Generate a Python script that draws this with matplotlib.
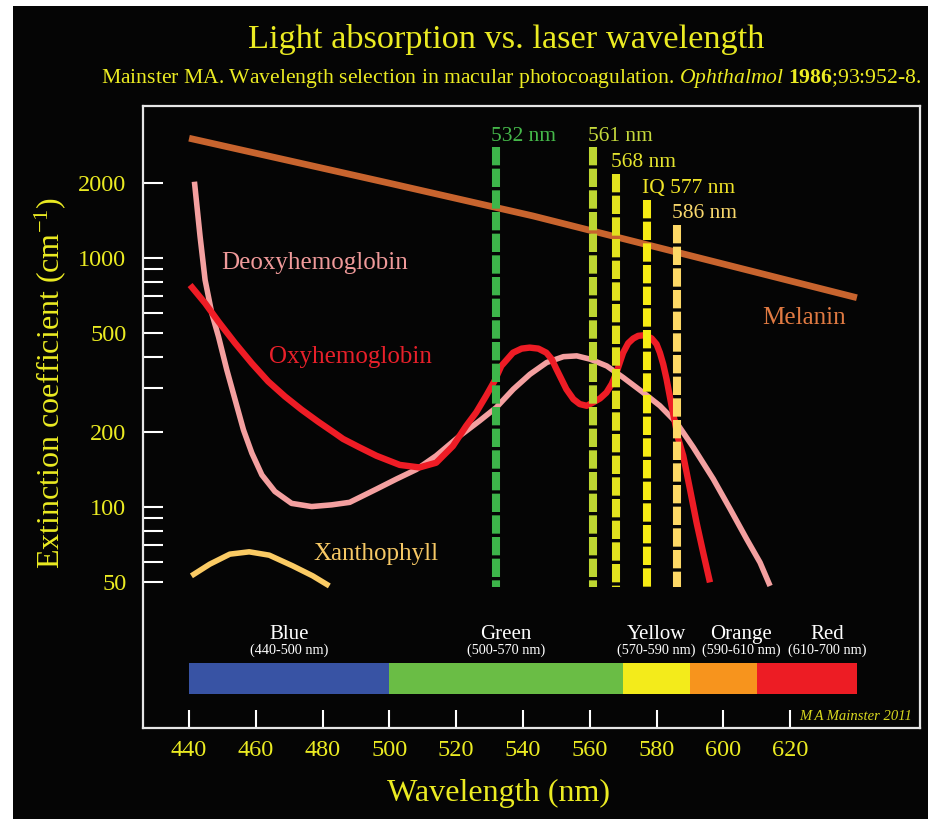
import matplotlib
matplotlib.use('Agg')
import matplotlib.pyplot as plt
import matplotlib.transforms as mtransforms
from matplotlib.patches import Rectangle

plt.rcParams['font.family'] = ['Liberation Serif', 'DejaVu Serif']
plt.rcParams['mathtext.fontset'] = 'custom'
plt.rcParams['mathtext.rm'] = 'Liberation Serif'
plt.rcParams['mathtext.it'] = 'Liberation Serif:italic'
plt.rcParams['mathtext.bf'] = 'Liberation Serif:bold'
plt.rcParams['lines.scale_dashes'] = False

# ---------------- data ----------------
melanin_nm = [440, 500, 543, 580, 640]
melanin_val = [3017, 1990, 1470, 1102, 690]

deoxy_nm = [441.6, 443.3, 444.8, 446.8, 448.8, 451.3, 453.8, 456.3, 458.8, 461.8,
            465.7, 470.7, 476.7, 482.7, 488.1, 496.1, 502.1, 508.1, 514, 521,
            527, 532, 537.1, 542.1, 547.1, 552.1, 556.1, 560.1, 565.1, 570,
            576, 581, 586, 591, 597, 602, 607, 611, 614]
deoxy_val = [2018, 1214, 813, 598, 482, 354, 268, 203, 164, 134,
             115, 103, 100, 101.6, 104, 117.5, 129, 141, 160, 192,
             221, 250, 296, 340, 379, 400, 403, 391, 367, 330,
             287, 254, 217, 173, 129, 98, 74, 59.6, 48]

oxy_nm = [440.3, 444.8, 448.8, 453.8, 458.8, 463.7, 468.7, 473.7, 478.7, 483.7,
          486.1, 491, 496.1, 503.1, 509, 514, 519, 523, 526, 529, 531.5, 533.5,
          537, 539.6, 542, 544.6, 547, 548.6, 550, 553, 555.1, 557, 559.1, 561,
          563.1, 565, 566.6, 568, 569, 570, 571.5, 573, 574.5, 576.5, 578.5, 580,
          581, 582, 583, 584.5, 586.5, 588, 590, 592, 594, 596]
oxy_val = [776, 656, 553, 453, 376, 318, 277, 245, 219, 197,
           187, 173, 160, 147, 143.6, 150, 175, 211, 239, 279, 320, 367,
           415, 431, 435, 431, 415, 391, 357, 296, 270, 258, 254, 262,
           272, 287, 311, 345, 379, 415, 453, 473, 485, 488, 474, 449,
           415, 373, 325, 254, 187, 160, 117.6, 86, 65, 49.6]

xan_nm = [440.7, 446.2, 452.2, 458, 464, 471, 477, 482]
xan_val = [52.7, 58.7, 64.4, 65.8, 63.8, 57.8, 52.7, 48]

laser_nm = [532, 561, 568, 577, 586]
laser_labels = ['532 nm', '561 nm', '568 nm', 'IQ 577 nm', '586 nm']
laser_top = [2770, 2770, 2160, 1700, 1350]
laser_bottom = [47.5, 47.5, 47.5, 47.5, 47.5]

band_names = ['Blue', 'Green', 'Yellow', 'Orange', 'Red']
band_ranges = ['(440-500 nm)', '(500-570 nm)', '(570-590 nm)', '(590-610 nm)', '(610-700 nm)']
band_start = [440, 500, 570, 590, 610]
band_end = [500, 570, 590, 610, 640]

x_ticks = [440, 460, 480, 500, 520, 540, 560, 580, 600, 620]
y_ticks = [50, 60, 70, 80, 90, 100, 200, 300, 400, 500, 600, 700, 800, 900, 1000, 2000]
y_tick_labels = ['50', '', '', '', '', '100', '200', '', '', '500', '', '', '', '', '1000', '2000']

# ---------------- styles ----------------
W, H = 929, 819
BG = '#050505'
YEL = '#EBEB22'
band_colors = ['#3853A4', '#6ABD45', '#F3EB1B', '#F7941D', '#ED1C24']
band_label_x = [470, 535, 580, 605.4, 631.2]
laser_colors = ['#3DB54A', '#BDD631', '#E2E21E', '#F6EB14', '#FDD866']
laser_text_colors = ['#45B84A', '#C5D93C', '#E3E32E', '#F0E428', '#F9D86C']


def fx(px):
    return px / W


def fy(py):
    return 1 - py / H


fig = plt.figure(figsize=(W / 100, H / 100), dpi=100, facecolor='white')
fig.patches.append(Rectangle((fx(13), 0), fx(W - 13), (H - 6) / H,
                             transform=fig.transFigure, facecolor=BG,
                             edgecolor='none', zorder=-10))

ax = fig.add_axes([fx(143), fy(728), fx(777), 622 / H])
ax.set_facecolor(BG)
ax.set_yscale('log')
ax.set_xlim(426.2, 658.9)
ax.set_ylim(12.9, 4064)

for s in ax.spines.values():
    s.set_color('#E6E6E6')
    s.set_linewidth(1.6)

ax.set_xticks(x_ticks)
ax.set_xticklabels([str(v) for v in x_ticks])
ax.set_yticks(y_ticks)
ax.set_yticklabels(y_tick_labels)
ax.minorticks_off()
ax.tick_params(axis='x', direction='in', length=13, width=1.5, color='white',
               labelcolor=YEL, labelsize=17.5, pad=9)
ax.tick_params(axis='y', direction='in', length=14.5, width=1.5, color='white',
               labelcolor=YEL, labelsize=17.5, pad=12)

# curves
common = dict(solid_capstyle='butt', solid_joinstyle='round')
ax.plot(melanin_nm, melanin_val, color='#C8642E', lw=4.8, zorder=3, **common)
ax.plot(deoxy_nm, deoxy_val, color='#F4A0A0', lw=4.0, zorder=3, **common)
ax.plot(oxy_nm, oxy_val, color='#EE1C25', lw=4.6, zorder=4, **common)
ax.plot(xan_nm, xan_val, color='#FBCB64', lw=4.0, zorder=3, **common)

# laser lines
for nm, top, bot, lab, c, tc in zip(laser_nm, laser_top, laser_bottom, laser_labels,
                                     laser_colors, laser_text_colors):
    ax.plot([nm, nm], [top, bot], color=c, lw=5.8, dashes=(13.2, 2.4),
            dash_capstyle='butt', zorder=5)
    ax.annotate(lab, xy=(nm, top), xytext=(-3.6, 5), textcoords='offset points',
                ha='left', va='baseline', color=tc, fontsize=15.5, zorder=6)

# spectrum bar
trans = mtransforms.blended_transform_factory(ax.transData, ax.transAxes)
for s0, s1, c, name, rng, lx in zip(band_start, band_end, band_colors, band_names,
                                    band_ranges, band_label_x):
    ax.axvspan(s0, s1, ymin=0.054, ymax=0.104, facecolor=c, edgecolor='none', zorder=2)
    ax.text(lx, 0.143, name, transform=trans, ha='center', va='baseline',
            color='white', fontsize=15)
    ax.text(lx, 0.119, rng, transform=trans, ha='center', va='baseline',
            color='white', fontsize=10.3)

# curve labels
ax.text(449.7, 903, 'Deoxyhemoglobin', color='#F09A9A', fontsize=18, ha='left', va='baseline')
ax.text(464, 377, 'Oxyhemoglobin', color='#E8202A', fontsize=18, ha='left', va='baseline')
ax.text(477.3, 61.1, 'Xanthophyll', color='#F6C865', fontsize=18, ha='left', va='baseline')
ax.text(611.5, 540, 'Melanin', color='#E07A42', fontsize=18, ha='left', va='baseline')

r = fig.canvas.get_renderer()


def fit(t, target, use_height=False):
    bb = t.get_window_extent(r)
    cur = bb.height if use_height else bb.width
    t.set_fontsize(t.get_fontsize() * target / cur)


# credit
tc = ax.text(fx(912), fy(720), 'M A Mainster 2011', transform=fig.transFigure,
             ha='right', va='baseline', color='#D9D91E', fontsize=10.5, style='italic')
fit(tc, 113)

# titles
t1 = fig.text(fx(506), fy(48), 'Light absorption vs. laser wavelength',
              ha='center', va='baseline', color=YEL, fontsize=24.5)
fit(t1, 516)
t2 = fig.text(fx(511), fy(83.3),
              r'Mainster MA. Wavelength selection in macular photocoagulation. '
              r'$\mathit{Ophthalmol}$ $\mathbf{1986}$;93:952-8.',
              ha='center', va='baseline', color=YEL, fontsize=15)
fit(t2, 822)
t3 = fig.text(fx(50), fy(383), r'Extinction coefficient (cm$^{-1}$)',
              rotation=90, ha='center', va='center', color=YEL, fontsize=24)
fit(t3, 373, use_height=True)
t4 = fig.text(fx(498.6), fy(793), 'Wavelength (nm)', ha='center', va='center',
              color=YEL, fontsize=24)
fit(t4, 224)

fig.savefig('out.png', dpi=100, facecolor='white')
